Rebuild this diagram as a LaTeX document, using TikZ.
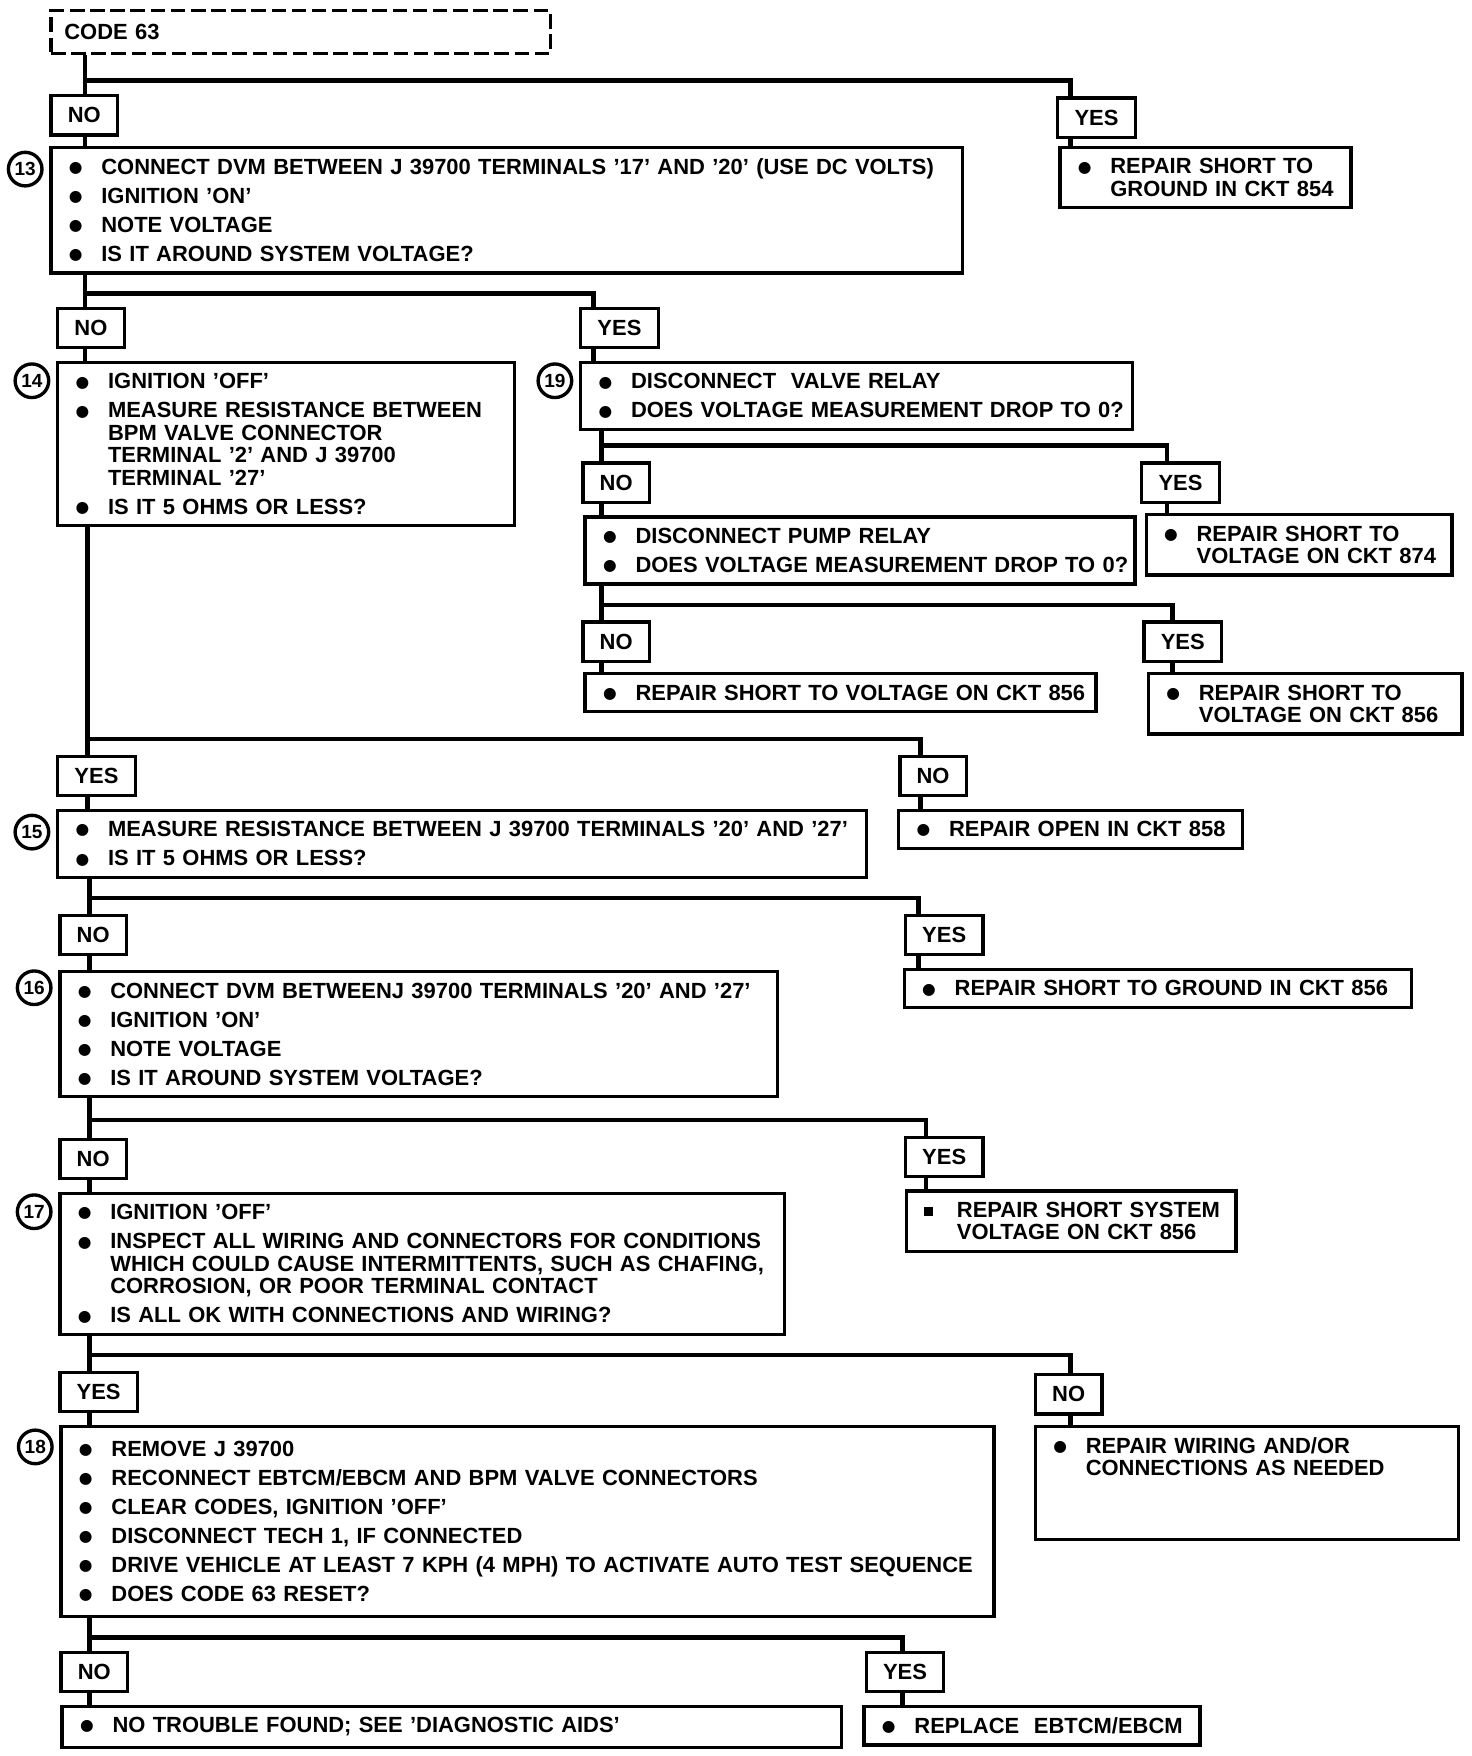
\documentclass[tikz,border=0pt]{standalone}
\usepackage{fontspec}
\setmainfont{Liberation Sans}
\newfontfamily\symfont{DejaVu Sans}
\usetikzlibrary{positioning}

% bullet line, square bullet line and continued line
\newcommand\blt{\raisebox{0.8pt}{\symfont\fontsize{7pt}{7pt}\selectfont ●}}
\newcommand\itm[1]{\makebox[14.5pt][l]{\blt}\mbox{#1}}
\newcommand\sqitm[1]{\makebox[14.5pt][l]{\rule[0.8pt]{3.8pt}{3.8pt}}\mbox{#1}}
\newcommand\cont[1]{\hspace*{14.5pt}\mbox{#1}}

\tikzset{
  txt/.style={font=\fontsize{9.8pt}{10pt}\selectfont\bfseries},
  stepbox/.style={txt, draw, line width=1.5pt, fill=white, anchor=north west,
    align=left, inner xsep=8pt, inner ysep=5pt},
  answer/.style={txt, draw, line width=1.5pt, fill=white, anchor=north west,
    inner xsep=7.5pt, minimum height=17.5pt},
  num/.style={draw, circle, line width=1.5pt, inner sep=0pt, minimum size=15pt,
    font=\fontsize{8.5pt}{9pt}\selectfont\bfseries},
  link/.style={line width=2pt},
}

\begin{document}
\begin{tikzpicture}[x=0.5pt, y=-0.5pt, line join=miter]
  \useasboundingbox (0,0) rectangle (1314,1568);

  % Start
  \node[stepbox, dash pattern=on 6.5pt off 2.5pt, inner xsep=6pt, text width=211pt, minimum height=19pt] (code) at (44,8) {CODE 63};

  % Step 13
  \node[answer] (no1) at (44,84) {NO};
  \node[answer] (yes1) at (943,86) {YES};
  \node[stepbox, text width=391pt] (b13) at (44,130) {\itm{CONNECT DVM BETWEEN J 39700 TERMINALS '17' AND '20' (USE DC VOLTS)}\\[3pt]\itm{IGNITION 'ON'}\\[3pt]\itm{NOTE VOLTAGE}\\[3pt]\itm{IS IT AROUND SYSTEM VOLTAGE?}};
  \node[num, left=2.5pt] (n13) at ([yshift=-10.5pt]b13.north west) {13};
  \node[stepbox, text width=114pt] (r13) at (945,130) {\itm{REPAIR SHORT TO}\\\cont{GROUND IN CKT 854}};

  % Step 14 and step 19
  \node[answer] (no2) at (50,274) {NO};
  \node[answer] (yes2) at (517,274) {YES};
  \node[stepbox, text width=188pt] (b14) at (50,322) {\itm{IGNITION 'OFF'}\\[3pt]\itm{MEASURE RESISTANCE BETWEEN}\\\cont{BPM VALVE CONNECTOR}\\\cont{TERMINAL '2' AND J 39700}\\\cont{TERMINAL '27'}\\[3pt]\itm{IS IT 5 OHMS OR LESS?}};
  \node[num, left=2.5pt] (n14) at ([yshift=-9pt]b14.north west) {14};
  \node[stepbox, text width=230.5pt] (b19) at (517,322) {\itm{DISCONNECT\ \ VALVE RELAY}\\[3pt]\itm{DOES VOLTAGE MEASUREMENT DROP TO 0?}};
  \node[num, left=2.5pt] (n19) at ([yshift=-9pt]b19.north west) {19};

  % Pump relay
  \node[answer] (no3) at (519,412) {NO};
  \node[answer] (yes3) at (1018,412) {YES};
  \node[stepbox, text width=229.5pt] (b19n) at (521,460) {\itm{DISCONNECT PUMP RELAY}\\[3pt]\itm{DOES VOLTAGE MEASUREMENT DROP TO 0?}};
  \node[stepbox, text width=120.5pt] (r874) at (1022,458) {\itm{REPAIR SHORT TO}\\\cont{VOLTAGE ON CKT 874}};

  \node[answer] (no4) at (519,554) {NO};
  \node[answer] (yes4) at (1020,554) {YES};
  \node[stepbox, text width=212pt] (r856a) at (521,600) {\itm{REPAIR SHORT TO VOLTAGE ON CKT 856}};
  \node[stepbox, text width=124pt] (r856b) at (1024,600) {\itm{REPAIR SHORT TO}\\\cont{VOLTAGE ON CKT 856}};

  % Step 15
  \node[answer] (yes5) at (50,674) {YES};
  \node[answer] (no5) at (802,674) {NO};
  \node[stepbox, text width=345pt] (b15) at (50,722) {\itm{MEASURE RESISTANCE BETWEEN J 39700 TERMINALS '20' AND '27'}\\[3pt]\itm{IS IT 5 OHMS OR LESS?}};
  \node[num, left=2.5pt] (n15) at ([yshift=-10.5pt]b15.north west) {15};
  \node[stepbox, text width=137.5pt] (r858) at (801,722) {\itm{REPAIR OPEN IN CKT 858}};

  % Step 16
  \node[answer] (no6) at (52,816) {NO};
  \node[answer] (yes6) at (807,816) {YES};
  \node[stepbox, text width=304.5pt] (b16) at (52,866) {\itm{CONNECT DVM BETWEENJ 39700 TERMINALS '20' AND '27'}\\[3pt]\itm{IGNITION 'ON'}\\[3pt]\itm{NOTE VOLTAGE}\\[3pt]\itm{IS IT AROUND SYSTEM VOLTAGE?}};
  \node[num, left=2.5pt] (n16) at ([yshift=-8pt]b16.north west) {16};
  \node[stepbox, text width=210.5pt] (r856g) at (806,864) {\itm{REPAIR SHORT TO GROUND IN CKT 856}};

  % Step 17
  \node[answer] (no7) at (52,1016) {NO};
  \node[answer] (yes7) at (807,1014) {YES};
  \node[stepbox, text width=307.5pt] (b17) at (52,1064) {\itm{IGNITION 'OFF'}\\[3pt]\itm{INSPECT ALL WIRING AND CONNECTORS FOR CONDITIONS}\\\cont{WHICH COULD CAUSE INTERMITTENTS, SUCH AS CHAFING,}\\\cont{CORROSION, OR POOR TERMINAL CONTACT}\\[3pt]\itm{IS ALL OK WITH CONNECTIONS AND WIRING?}};
  \node[num, left=2.5pt] (n17) at ([yshift=-9pt]b17.north west) {17};
  \node[stepbox, text width=131pt] (r856s) at (808,1062) {\sqitm{REPAIR SHORT SYSTEM}\\\cont{VOLTAGE ON CKT 856}};

  % Step 18
  \node[answer] (yes8) at (52,1224) {YES};
  \node[answer] (no8) at (923,1226) {NO};
  \node[stepbox, text width=400.5pt, inner ysep=6.5pt] (b18) at (53,1272) {\itm{REMOVE J 39700}\\[3pt]\itm{RECONNECT EBTCM/EBCM AND BPM VALVE CONNECTORS}\\[3pt]\itm{CLEAR CODES, IGNITION 'OFF'}\\[3pt]\itm{DISCONNECT TECH 1, IF CONNECTED}\\[3pt]\itm{DRIVE VEHICLE AT LEAST 7 KPH (4 MPH) TO ACTIVATE AUTO TEST SEQUENCE}\\[3pt]\itm{DOES CODE 63 RESET?}};
  \node[num, left=2.5pt] (n18) at ([yshift=-10pt]b18.north west) {18};
  \node[stepbox, text width=173pt, text depth=33.5pt] (rwir) at (923,1272) {\itm{REPAIR WIRING AND/OR}\\\cont{CONNECTIONS AS NEEDED}};

  % Result of 18
  \node[answer] (no9) at (53,1474) {NO};
  \node[answer] (yes9) at (772,1474) {YES};
  \node[stepbox, text width=332pt] (bnt) at (54,1522) {\itm{NO TROUBLE FOUND; SEE 'DIAGNOSTIC AIDS'}};
  \node[stepbox, text width=134pt] (brep) at (770,1522) {\itm{REPLACE\ \ EBTCM/EBCM}};

  % Forks: trunk point and drop point
  \coordinate (f1) at (76,72);    \coordinate (d1) at (956,72);
  \coordinate (f2) at (76,262);   \coordinate (d2) at (530,262);
  \coordinate (f3) at (537,398);  \coordinate (d3) at (1042,398);
  \coordinate (f4) at (537,540);  \coordinate (d4) at (1047,540);
  \coordinate (f5) at (78,660);   \coordinate (d5) at (822,660);
  \coordinate (f6) at (80,802);   \coordinate (d6) at (820,802);
  \coordinate (f7) at (80,1000);  \coordinate (d7) at (827,1000);
  \coordinate (f8) at (80,1210);  \coordinate (d8) at (956,1210);
  \coordinate (f9) at (80,1462);  \coordinate (d9) at (806,1462);

  % Connectors
  \draw[link] (code.south -| f1) -- (f1) -- (d1) -- (yes1.north -| d1);
  \draw[link] (f1) -- (no1.north -| f1);
  \draw[link] (no1.south -| f1) -- (b13.north -| f1);
  \draw[link] (yes1.south -| d1) -- (r13.north -| d1);

  \draw[link] (b13.south -| f2) -- (f2) -- (d2) -- (yes2.north -| d2);
  \draw[link] (f2) -- (no2.north -| f2);
  \draw[link] (no2.south -| f2) -- (b14.north -| f2);
  \draw[link] (yes2.south -| d2) -- (b19.north -| d2);

  \draw[link] (b19.south -| f3) -- (f3) -- (d3) -- (yes3.north -| d3);
  \draw[link] (f3) -- (no3.north -| f3);
  \draw[link] (no3.south -| f3) -- (b19n.north -| f3);
  \draw[link] (yes3.south -| d3) -- (r874.north -| d3);

  \draw[link] (b19n.south -| f4) -- (f4) -- (d4) -- (yes4.north -| d4);
  \draw[link] (f4) -- (no4.north -| f4);
  \draw[link] (no4.south -| f4) -- (r856a.north -| f4);
  \draw[link] (yes4.south -| d4) -- (r856b.north -| d4);

  \draw[link] (b14.south -| f5) -- (f5) -- (d5) -- (no5.north -| d5);
  \draw[link] (f5) -- (yes5.north -| f5);
  \draw[link] (yes5.south -| f5) -- (b15.north -| f5);
  \draw[link] (no5.south -| d5) -- (r858.north -| d5);

  \draw[link] (b15.south -| f6) -- (f6) -- (d6) -- (yes6.north -| d6);
  \draw[link] (f6) -- (no6.north -| f6);
  \draw[link] (no6.south -| f6) -- (b16.north -| f6);
  \draw[link] (yes6.south -| d6) -- (r856g.north -| d6);

  \draw[link] (b16.south -| f7) -- (f7) -- (d7) -- (yes7.north -| d7);
  \draw[link] (f7) -- (no7.north -| f7);
  \draw[link] (no7.south -| f7) -- (b17.north -| f7);
  \draw[link] (yes7.south -| d7) -- (r856s.north -| d7);

  \draw[link] (b17.south -| f8) -- (f8) -- (d8) -- (no8.north -| d8);
  \draw[link] (f8) -- (yes8.north -| f8);
  \draw[link] (yes8.south -| f8) -- (b18.north -| f8);
  \draw[link] (no8.south -| d8) -- (rwir.north -| d8);

  \draw[link] (b18.south -| f9) -- (f9) -- (d9) -- (yes9.north -| d9);
  \draw[link] (f9) -- (no9.north -| f9);
  \draw[link] (no9.south -| f9) -- (bnt.north -| f9);
  \draw[link] (yes9.south -| d9) -- (brep.north -| d9);
\end{tikzpicture}
\end{document}
